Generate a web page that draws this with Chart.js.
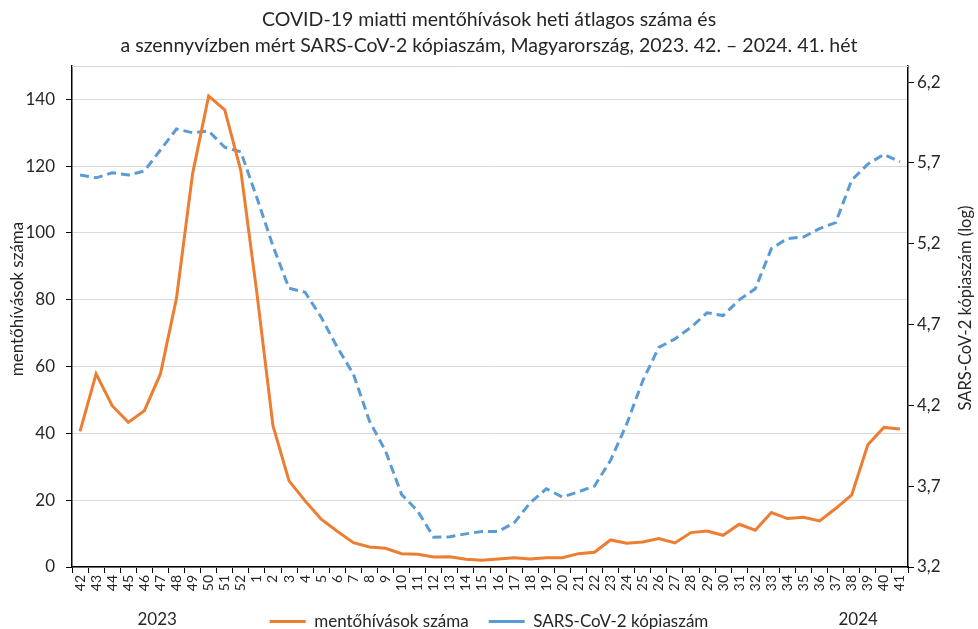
<!DOCTYPE html>
<html lang="hu">
<head>
<meta charset="utf-8">
<title>COVID-19 mentőhívások és SARS-CoV-2 kópiaszám</title>
<script src="https://cdn.jsdelivr.net/npm/chart.js@4/dist/chart.umd.min.js"></script>
<style>
  html, body { margin: 0; padding: 0; background: #fff; }
  canvas { display: block; }
</style>
</head>
<body>
<canvas id="chart" width="978" height="629"></canvas>
<script>
// hetek: 2023. 42. – 2024. 41.
const weeks = ['42', '43', '44', '45', '46', '47', '48', '49', '50', '51', '52',
  '1', '2', '3', '4', '5', '6', '7', '8', '9', '10', '11', '12', '13', '14', '15',
  '16', '17', '18', '19', '20', '21', '22', '23', '24', '25', '26', '27', '28', '29',
  '30', '31', '32', '33', '34', '35', '36', '37', '38', '39', '40', '41'];

// mentőhívások heti átlagos száma
const calls = [40.6, 57.8, 48.3, 43.3, 46.8, 57.8, 80.5, 117.7, 141.0, 136.9, 118.7,
  82.0, 42.3, 25.8, 19.8, 14.3, 10.7, 7.3, 6.0, 5.6, 4.0, 3.8, 3.0, 3.1, 2.3, 2.0,
  2.4, 2.8, 2.4, 2.8, 2.8, 4.0, 4.4, 8.1, 7.1, 7.5, 8.5, 7.2, 10.3, 10.8,
  9.5, 12.8, 11.0, 16.3, 14.5, 14.9, 13.8, 17.5, 21.6, 36.6, 41.8, 41.3];

// szennyvíz SARS-CoV-2 kópiaszám (log)
const copies = [5.625, 5.608, 5.639, 5.625, 5.650, 5.780, 5.910, 5.887, 5.898, 5.797, 5.769,
  5.484, 5.186, 4.925, 4.900, 4.745, 4.56, 4.394, 4.104, 3.918, 3.649, 3.546, 3.384, 3.387, 3.405, 3.420,
  3.420, 3.473, 3.597, 3.684, 3.633, 3.665, 3.701, 3.86, 4.084, 4.352, 4.559, 4.611, 4.683, 4.773,
  4.756, 4.853, 4.921, 5.170, 5.232, 5.242, 5.294, 5.331, 5.594, 5.693, 5.753, 5.707];

const leftTicks = [0, 20, 40, 60, 80, 100, 120, 140];
const rightTicks = [3.2, 3.7, 4.2, 4.7, 5.2, 5.7, 6.2];

const FONT = 'Lato, "Open Sans", sans-serif';
const TEXT = '#262626';

// évszámok, tengelycímek (mindkettő alulról felfelé olvasva), felső rácsvonal
const extraText = {
  id: 'extraText',
  afterDraw(chart) {
    const { ctx, scales } = chart;
    ctx.save();
    ctx.fillStyle = TEXT;
    ctx.font = '17px ' + FONT;
    ctx.textAlign = 'center';
    ctx.textBaseline = 'middle';
    ctx.fillText('2023', scales.x.getPixelForValue(4.8), 620);
    ctx.fillText('2024', scales.x.getPixelForValue(48.4), 620);

    ctx.save();
    ctx.translate(18, 299);
    ctx.rotate(-Math.PI / 2);
    ctx.fillText('mentőhívások száma', 0, 0);
    ctx.restore();

    ctx.font = '16.5px ' + FONT;
    ctx.translate(966, 308);
    ctx.rotate(-Math.PI / 2);
    ctx.fillText('SARS-CoV-2 kópiaszám (log)', 0, 0);
    ctx.restore();
  },
  beforeDatasetsDraw(chart) {
    const { ctx, chartArea } = chart;
    ctx.save();
    ctx.strokeStyle = '#d9d9d9';
    ctx.lineWidth = 1;
    ctx.beginPath();
    ctx.moveTo(chartArea.left, chartArea.top + 0.5);
    ctx.lineTo(chartArea.right, chartArea.top + 0.5);
    ctx.stroke();
    ctx.restore();
  }
};

new Chart(document.getElementById('chart'), {
  type: 'line',
  data: {
    labels: weeks,
    datasets: [{
      label: 'mentőhívások száma',
      data: calls,
      yAxisID: 'y',
      borderColor: '#ed7d31',
      backgroundColor: '#ed7d31',
      borderWidth: 3,
      pointRadius: 0,
      tension: 0
    }, {
      label: 'SARS-CoV-2 kópiaszám',
      data: copies,
      yAxisID: 'y1',
      borderColor: '#5b9bd5',
      backgroundColor: '#5b9bd5',
      borderWidth: 3,
      borderDash: [9, 5],
      pointRadius: 0,
      tension: 0
    }]
  },
  options: {
    responsive: false,
    animation: false,
    layout: { padding: { top: 0, left: 0, right: 0, bottom: -11 } },
    plugins: {
      title: {
        display: true,
        text: ['COVID-19 miatti mentőhívások heti átlagos száma és',
          'a szennyvízben mért SARS-CoV-2 kópiaszám, Magyarország, 2023. 42. – 2024. 41. hét'],
        color: TEXT,
        font: { family: FONT, size: 19.5, weight: 'normal', lineHeight: 1.333 },
        padding: { top: 7, bottom: 7 }
      },
      legend: {
        position: 'bottom',
        labels: {
          color: TEXT,
          font: { family: FONT, size: 17 },
          usePointStyle: true,
          pointStyle: 'line',
          pointStyleWidth: 36,
          padding: 20
        }
      },
      tooltip: { enabled: false }
    },
    scales: {
      x: {
        offset: true,
        grid: {
          display: true,
          drawOnChartArea: false,
          offset: true,
          tickLength: 6,
          tickColor: '#000'
        },
        border: { color: '#000', width: 1.5 },
        ticks: {
          color: TEXT,
          font: { family: FONT, size: 14 },
          autoSkip: false,
          minRotation: 90,
          maxRotation: 90,
          padding: 2
        },
        afterFit(scale) { scale.height = 26; }
      },
      y: {
        position: 'left',
        min: 0,
        max: 150,
        afterBuildTicks(scale) { scale.ticks = leftTicks.map(v => ({ value: v })); },
        grid: { color: '#d9d9d9', tickLength: 6, tickColor: '#000' },
        border: { color: '#000', width: 1.5 },
        ticks: {
          color: TEXT,
          font: { family: FONT, size: 17 },
          padding: 11
        },
        afterFit(scale) { scale.width = 72; }
      },
      y1: {
        position: 'right',
        min: 3.2,
        max: 6.3,
        afterBuildTicks(scale) { scale.ticks = rightTicks.map(v => ({ value: v })); },
        grid: { drawOnChartArea: false, tickLength: 6, tickColor: '#000' },
        border: { color: '#000', width: 1.5 },
        ticks: {
          color: TEXT,
          font: { family: FONT, size: 17 },
          padding: 3,
          callback: v => v.toFixed(1).replace('.', ',')
        },
        afterFit(scale) { scale.width = 70; }
      }
    }
  },
  plugins: [extraText]
});
</script>
</body>
</html>
